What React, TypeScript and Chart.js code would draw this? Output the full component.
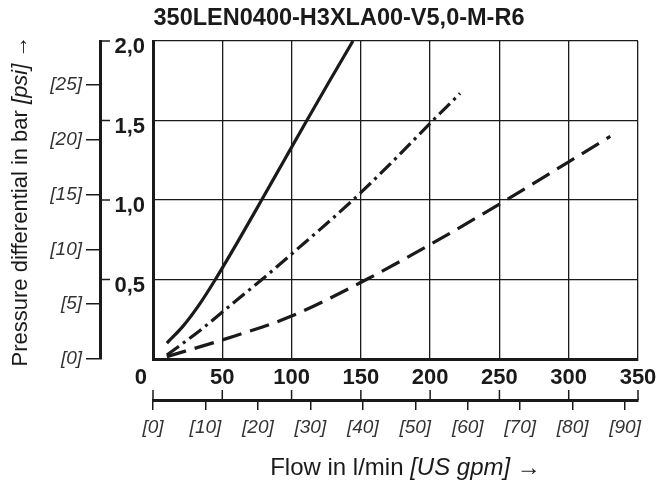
import React, { useEffect, useRef } from 'react';
import { Chart, registerables } from 'chart.js';

Chart.register(...registerables);

// ---- data ----
const chartTitle = '350LEN0400-H3XLA00-V5,0-M-R6';
const flowTicks = [0, 50, 100, 150, 200, 250, 300, 350];
const gpmTicks = [0, 10, 20, 30, 40, 50, 60, 70, 80, 90];
const barTicks = [0, 0.5, 1, 1.5, 2];
const psiTicks = [0, 5, 10, 15, 20, 25];

const solidFlow = [10, 22, 34, 45, 61, 78.4, 95, 111, 127.5, 144.3];
const solidDp = [0.1, 0.21, 0.35, 0.5, 0.735, 1.0, 1.255, 1.5, 1.75, 2.0];
const dashDotFlow = [10, 32.5, 59, 78.6, 100, 144.3, 175, 202, 221.6];
const dashDotDp = [0.025, 0.17, 0.36, 0.5, 0.66, 1.0, 1.26, 1.5, 1.67];
const dashFlow = [10, 50, 100, 154, 200, 255, 300, 330];
const dashDp = [0.015, 0.12, 0.27, 0.5, 0.72, 1.0, 1.24, 1.4];

const LPM_PER_GPM = 3.785411784;
const PSI_PER_BAR = 14.5038;

const INK = '#1a1a1a';
const FAM = '"Liberation Sans", Arial, sans-serif';

const pts = (xs: number[], ys: number[]) => xs.map((x, i) => ({ x, y: ys[i] }));

const extras = {
  id: 'extras',
  afterDraw(chart: any) {
    const { ctx, scales, chartArea } = chart;
    const x = scales.x, x2 = scales.x2, y = scales.y, y2 = scales.y2;
    ctx.save();
    ctx.strokeStyle = INK;
    ctx.lineWidth = 1.5;
    // l/min tick marks pointing up from the secondary axis line
    x.ticks.forEach((t: any) => {
      const px = x.getPixelForValue(t.value);
      ctx.beginPath();
      ctx.moveTo(px, x2.top);
      ctx.lineTo(px, x2.top - 10);
      ctx.stroke();
    });
    // bar tick marks pointing right from the secondary axis line
    y.ticks.forEach((t: any) => {
      if (t.value === 0) return;
      const py = y.getPixelForValue(t.value);
      ctx.beginPath();
      ctx.moveTo(y2.right, py);
      ctx.lineTo(y2.right + 10, py);
      ctx.stroke();
    });

    const drawMixed = (segs: { t: string; f: string }[], cx: number, cy: number, rot: number) => {
      ctx.save();
      ctx.translate(cx, cy);
      ctx.rotate(rot);
      ctx.fillStyle = INK;
      ctx.textBaseline = 'middle';
      ctx.textAlign = 'left';
      let total = 0;
      segs.forEach((s) => { ctx.font = s.f; total += ctx.measureText(s.t).width; });
      let pos = -total / 2;
      segs.forEach((s) => { ctx.font = s.f; ctx.fillText(s.t, pos, 0); pos += ctx.measureText(s.t).width; });
      ctx.restore();
    };
    const reg = `24px ${FAM}`;
    const ital = `italic 24px ${FAM}`;
    drawMixed(
      [{ t: 'Flow in l/min ', f: reg }, { t: '[US gpm]', f: ital }, { t: ' \u2192', f: reg }],
      (chartArea.left + chartArea.right) / 2 + 10, 468, 0
    );
    const regY = `22px ${FAM}`;
    const italY = `italic 22px ${FAM}`;
    drawMixed(
      [{ t: 'Pressure differential in bar ', f: regY }, { t: '[psi]', f: italY }, { t: ' \u2192', f: regY }],
      21, (chartArea.top + chartArea.bottom) / 2 + 1, -Math.PI / 2
    );
    ctx.restore();
  },
};

export default function App() {
  const ref = useRef<HTMLCanvasElement | null>(null);
  useEffect(() => {
    if (!ref.current) return;
    const chart = new Chart(ref.current, {
      type: 'line',
      data: {
        datasets: [
          { label: 'solid', data: pts(solidFlow, solidDp), borderColor: INK, borderWidth: 3.2, pointRadius: 0, cubicInterpolationMode: 'monotone', xAxisID: 'x', yAxisID: 'y' },
          { label: 'dashdot', data: pts(dashDotFlow, dashDotDp), borderColor: INK, borderWidth: 3.2, borderDash: [15, 5, 3, 5], pointRadius: 0, cubicInterpolationMode: 'monotone', xAxisID: 'x', yAxisID: 'y' },
          { label: 'dash', data: pts(dashFlow, dashDp), borderColor: INK, borderWidth: 3.2, borderDash: [20, 9], pointRadius: 0, cubicInterpolationMode: 'monotone', xAxisID: 'x', yAxisID: 'y' },
        ],
      },
      options: {
        animation: false,
        responsive: false,
        devicePixelRatio: 1,
        layout: { padding: { left: 40, right: 27, top: 0, bottom: 48 } },
        plugins: {
          legend: { display: false },
          tooltip: { enabled: false },
          title: {
            display: true,
            text: chartTitle,
            color: INK,
            font: { family: FAM, size: 23.5, weight: 'bold', lineHeight: 1.2 },
            padding: { top: 4, bottom: 8.8 },
          },
        },
        scales: {
          x: {
            type: 'linear', position: 'bottom', min: 0, max: 350, weight: 0,
            afterBuildTicks: (s: any) => { s.ticks = flowTicks.map((v) => ({ value: v })); },
            grid: { color: INK, lineWidth: 1.3, drawTicks: false },
            border: { display: true, color: INK, width: 3 },
            ticks: {
              color: INK, padding: 6, maxRotation: 0, autoSkip: false,
              font: { family: FAM, size: 22, weight: 'bold' },
              callback: (v: any) => (v === 0 ? '0\u2007\u2007' : String(v)),
            },
            afterFit: (s: any) => { s.height = 41; },
          },
          x2: {
            type: 'linear', position: 'bottom', min: 0, max: 350 / LPM_PER_GPM, weight: 1,
            afterBuildTicks: (s: any) => { s.ticks = gpmTicks.map((v) => ({ value: v })); },
            grid: { drawOnChartArea: false, drawTicks: true, tickLength: 10, color: INK, lineWidth: 1.5 },
            border: { display: true, color: INK, width: 3 },
            ticks: {
              color: '#333', padding: 6, maxRotation: 0, autoSkip: false,
              font: { family: FAM, size: 19, style: 'italic' },
              callback: (v: any) => `[${v}]`,
            },
            afterFit: (s: any) => { s.height = 40; },
          },
          y: {
            type: 'linear', position: 'left', min: 0, max: 2, weight: 0,
            afterBuildTicks: (s: any) => { s.ticks = barTicks.map((v) => ({ value: v })); },
            grid: { color: INK, lineWidth: 1.3, drawTicks: false },
            border: { display: true, color: INK, width: 3 },
            ticks: {
              color: INK, padding: 8, labelOffset: 6, autoSkip: false,
              font: { family: FAM, size: 22, weight: 'bold' },
              callback: (v: any) => (v === 0 ? '' : Number(v).toFixed(1).replace('.', ',')),
            },
            afterFit: (s: any) => { s.width = 53; },
          },
          y2: {
            type: 'linear', position: 'left', min: 0, max: 2 * PSI_PER_BAR, weight: 1,
            afterBuildTicks: (s: any) => { s.ticks = psiTicks.map((v) => ({ value: v })); },
            grid: { drawOnChartArea: false, drawTicks: true, tickLength: 14, color: INK, lineWidth: 1.5 },
            border: { display: true, color: INK, width: 3 },
            ticks: {
              color: '#333', padding: 4, autoSkip: false,
              font: { family: FAM, size: 19, style: 'italic' },
              callback: (v: any) => `[${v}]`,
            },
            afterFit: (s: any) => { s.width = 60; },
          },
        },
      },
      plugins: [extras],
    } as any);
    return () => chart.destroy();
  }, []);
  return (
    <div style={{ margin: '-8px', width: 665, height: 488, background: '#fff' }}>
      <canvas ref={ref} width={665} height={488} style={{ display: 'block' }} />
    </div>
  );
}
